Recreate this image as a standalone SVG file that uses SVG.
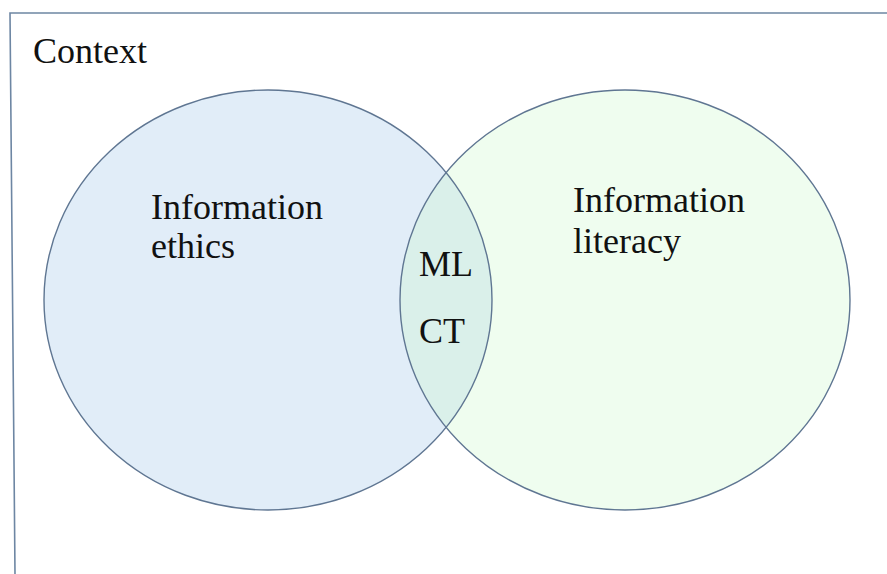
<svg xmlns="http://www.w3.org/2000/svg" width="887" height="574" viewBox="0 0 887 574">
<style>
.lbl{font-family:"Liberation Serif","Times New Roman",serif;font-size:36px;fill:#111}
.ring{fill:none;stroke:#5f7692;stroke-width:1.4}
</style>
<defs>
<clipPath id="clipL"><ellipse cx="268" cy="300" rx="224" ry="210"/></clipPath>
</defs>
<rect width="887" height="574" fill="#ffffff"/>
<g id="context">
<path d="M887 13 L10 13 L15 574" fill="none" stroke="#6d86a3" stroke-width="1.6"/>
<text class="lbl" x="33" y="63">Context</text>
</g>
<g id="ethics">
<ellipse cx="268" cy="300" rx="224" ry="210" fill="#e1edf8"/>
</g>
<g id="literacy">
<ellipse cx="625" cy="300" rx="225" ry="210" fill="#effdef"/>
</g>
<g id="overlap">
<ellipse cx="625" cy="300" rx="225" ry="210" fill="#daf0ea" clip-path="url(#clipL)"/>
</g>
<g id="outlines">
<ellipse class="ring" cx="268" cy="300" rx="224" ry="210"/>
<ellipse class="ring" cx="625" cy="300" rx="225" ry="210"/>
</g>
<g id="labels">
<text class="lbl" x="151" y="219">Information</text>
<text class="lbl" x="151" y="258">ethics</text>
<text class="lbl" x="573" y="212">Information</text>
<text class="lbl" x="573" y="253">literacy</text>
<text class="lbl" x="419" y="276">ML</text>
<text class="lbl" x="419" y="343">CT</text>
</g>
</svg>
